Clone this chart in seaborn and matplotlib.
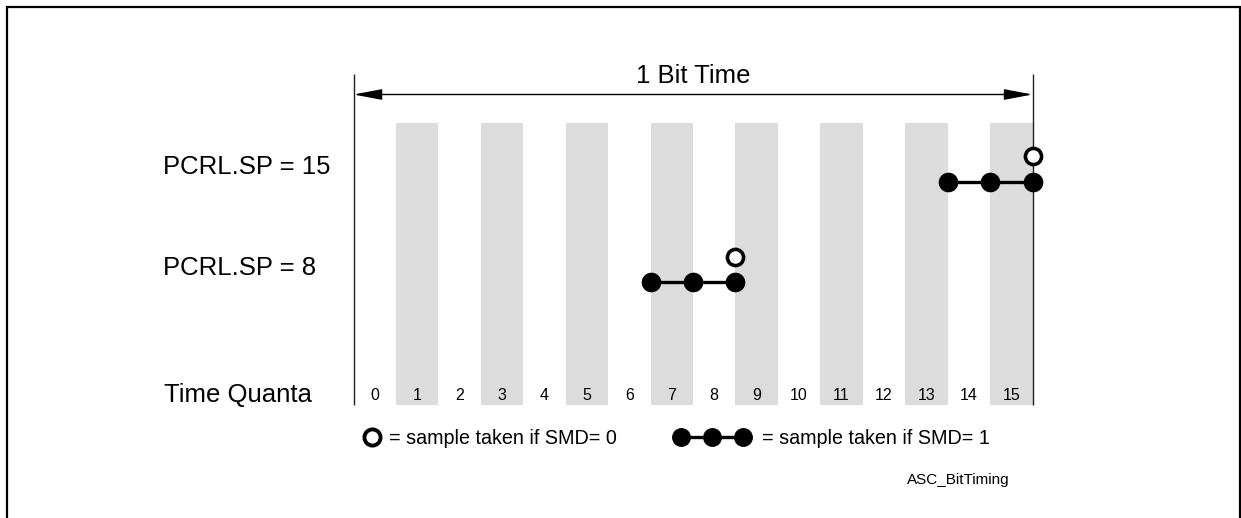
import numpy as np
import pandas as pd
import matplotlib
matplotlib.use("Agg")
import matplotlib.pyplot as plt
from matplotlib.patches import Rectangle
import seaborn as sns

# ---- data ----
quanta = list(range(16))                       # time quanta labels 0..15
shaded_quanta = [1, 3, 5, 7, 9, 11, 13, 15]    # grey columns
settings = ["PCRL.SP = 15", "PCRL.SP = 8"]
sp_values = [15, 8]
triple_samples = {15: [14, 15, 16], 8: [7, 8, 9]}   # SMD = 1 sample points (quanta boundaries)
single_sample = {15: 16, 8: 9}                      # SMD = 0 sample point
bit_quanta = 16

sns.set_theme(style="white")
plt.rcParams["font.family"] = ["Liberation Sans", "DejaVu Sans"]
plt.rcParams["text.color"] = "black"

W, H = 1241, 518
fig = plt.figure(figsize=(W / 100, H / 100), dpi=100)
ax = fig.add_axes([0, 0, 1, 1])
ax.set_axis_off()

X0, QW = 353.5, 42.44          # pixel of quantum 0 and width of one quantum
def q(px):
    return (px - X0) / QW

ax.set_xlim(q(0), q(W))
ax.set_ylim(H, 0)

# outer frame
fig.patches.append(Rectangle((7 / W, -0.05), (1240 - 7) / W, (H - 7) / H + 0.05,
                             transform=fig.transFigure, fill=False,
                             edgecolor="black", linewidth=1.6))

# shaded columns
for c in shaded_quanta:
    ax.add_patch(Rectangle((c, 123), 1, 405 - 123, facecolor="#dcdcdc",
                           edgecolor="none", zorder=0))

# boundary lines
ax.vlines([0, bit_quanta], 74, 405, color="#222222", linewidth=1.0, zorder=2)

# 1 bit time arrow
ax.annotate("", xy=(0, 94.5), xytext=(bit_quanta, 94.5),
            arrowprops=dict(arrowstyle="<|-|>,head_length=1.75,head_width=0.33",
                            mutation_scale=10, lw=1.0, color="black",
                            shrinkA=0, shrinkB=0))
ax.text(bit_quanta / 2, 76, "1 Bit Time", ha="center", va="center", fontsize=18.5)

# row labels
row_y = {15: 182, 8: 282}
open_y = {15: 156, 8: 257}
label_y = {15: 167, 8: 268}
for lab, sp in zip(settings, sp_values):
    ax.text(q(163), label_y[sp], lab, ha="left", va="center", fontsize=18.5)
ax.text(q(164), 395, "Time Quanta", ha="left", va="center", fontsize=18.5)

# quanta numbers
for i in quanta:
    ax.text(i + 0.5, 396, str(i), ha="center", va="center", fontsize=11.5)

# sample points
for sp in sp_values:
    xs = triple_samples[sp]
    df = pd.DataFrame({"x": xs, "y": [row_y[sp]] * len(xs)})
    sns.lineplot(data=df, x="x", y="y", color="black", linewidth=2.4,
                 ax=ax, zorder=3, legend=False)
    sns.scatterplot(data=df, x="x", y="y", color="black", s=200,
                    edgecolor="black", linewidth=0, ax=ax, zorder=4, legend=False)
    sns.scatterplot(x=[single_sample[sp]], y=[open_y[sp]], color="white",
                    edgecolor="black", linewidth=2.6, s=135, ax=ax, zorder=4,
                    legend=False)

# legend
ax.scatter([q(372)], [437], s=135, facecolor="white", edgecolor="black",
           linewidth=2.8, zorder=4)
ax.text(q(389), 438, "= sample taken if SMD= 0", ha="left", va="center", fontsize=14.2)
lx = [q(681), q(712), q(743)]
ax.plot(lx, [437] * 3, color="black", linewidth=2.4, zorder=3)
ax.scatter(lx, [437] * 3, s=185, color="black", linewidth=0, zorder=4)
ax.text(q(762), 438, "= sample taken if SMD= 1", ha="left", va="center", fontsize=14.2)

ax.text(q(1010), 480, "ASC_BitTiming", ha="right", va="center", fontsize=11)

fig.savefig("out.png", dpi=100)
